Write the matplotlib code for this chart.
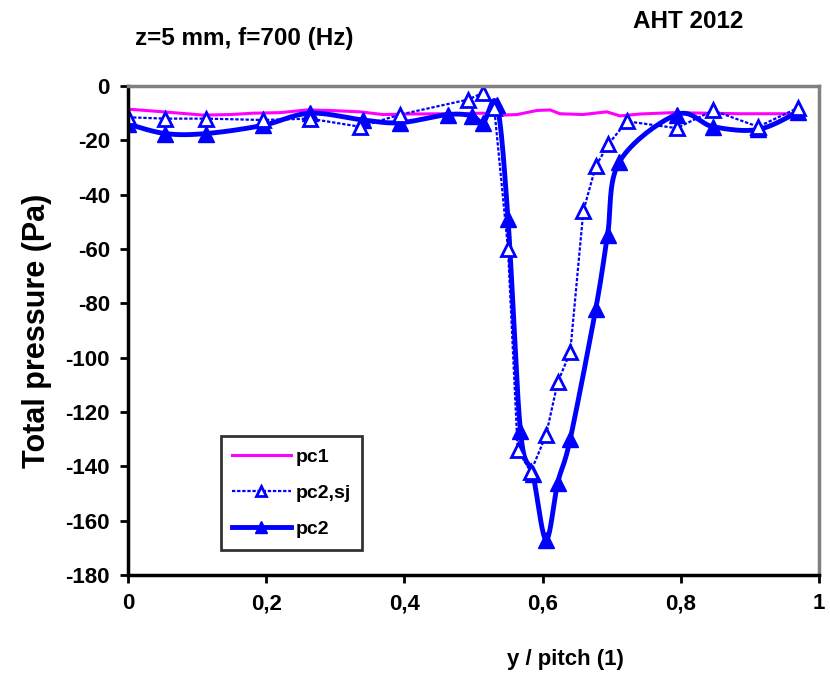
import matplotlib
matplotlib.use("Agg")
import matplotlib.pyplot as plt
import numpy as np

plt.rcParams['font.family'] = ['Liberation Sans', 'DejaVu Sans']
plt.rcParams['font.weight'] = 'bold'
plt.rcParams['axes.unicode_minus'] = False

# pc1 : reference signal (no markers)
x_pc1 = [0, 0.036, 0.075, 0.109, 0.148, 0.181, 0.22, 0.259, 0.292, 0.336, 0.369,
         0.408, 0.466, 0.514, 0.543, 0.563, 0.592, 0.611, 0.625, 0.658, 0.693,
         0.712, 0.741, 0.789, 0.886, 0.97]
y_pc1 = [-8.5, -9.2, -10.0, -10.7, -10.5, -10.0, -9.8, -8.8, -9.0, -9.5, -10.5,
         -10.3, -10.2, -10.0, -10.7, -10.5, -9.0, -8.8, -10.2, -10.5, -9.5,
         -11.0, -10.3, -9.8, -10.2, -10.2]

# pc2,sj : open triangles, dotted line
x_sj = [0, 0.054, 0.113, 0.195, 0.263, 0.336, 0.394, 0.492, 0.514, 0.53, 0.55,
        0.564, 0.583, 0.605, 0.622, 0.640, 0.659, 0.677, 0.695, 0.722, 0.794,
        0.847, 0.912, 0.970]
y_sj = [-11.5, -12, -12, -12.5, -12, -15, -10.5, -5, -2.5, -8, -60,
        -134, -142, -128.5, -109, -98, -46, -29.5, -21.5, -13, -15.5,
        -9, -15, -8]

# pc2 : filled triangles, thick smoothed line
x_pc2 = [0, 0.054, 0.113, 0.195, 0.263, 0.34, 0.394, 0.463, 0.498, 0.514, 0.534,
         0.55, 0.568, 0.586, 0.605, 0.622, 0.640, 0.677, 0.694, 0.711, 0.794,
         0.847, 0.912, 0.970]
y_pc2 = [-14, -17.5, -17.5, -14.5, -10, -12.5, -13.5, -10.5, -11, -13.5, -7,
         -49, -127, -143, -167, -146, -130, -82, -55, -28, -10.5,
         -15, -16, -9.5]

xticks = [0, 0.2, 0.4, 0.6, 0.8, 1.0]
xticklabels = ['0', '0,2', '0,4', '0,6', '0,8', '1']
yticks = list(range(-180, 1, 20))


def smooth(x, y, n=20):
    # Catmull-Rom style smoothing, like a spreadsheet "smoothed line"
    p = np.column_stack([x, y]).astype(float)
    p = np.vstack([p[0], p, p[-1]])
    out = []
    t = np.linspace(0, 1, n, endpoint=False)[:, None]
    for i in range(1, len(p) - 2):
        p0, p1, p2, p3 = p[i - 1], p[i], p[i + 1], p[i + 2]
        seg = 0.5 * ((2 * p1) + (-p0 + p2) * t + (2 * p0 - 5 * p1 + 4 * p2 - p3) * t ** 2
                     + (-p0 + 3 * p1 - 3 * p2 + p3) * t ** 3)
        out.append(seg)
    out.append(p[-2][None, :])
    out = np.vstack(out)
    return out[:, 0], out[:, 1]


fig = plt.figure(figsize=(8.3, 6.79), dpi=100)
ax = fig.add_axes([0.1542, 0.1532, 0.8325, 0.7201])

blue = '#0000ff'
ax.plot(x_pc1, y_pc1, color='#ff00ff', lw=2.2, label='pc1')

sx, sy = smooth(x_pc2, y_pc2)
ax.plot(sx, sy, color=blue, lw=3.5, solid_capstyle='round')
ax.plot(x_pc2, y_pc2, ls='none', marker='^', ms=11.5, color=blue, mec=blue)

ax.plot(x_sj, y_sj, color=blue, lw=1.6, ls=(0, (1.5, 0.8)))
ax.plot(x_sj, y_sj, ls='none', marker='^', ms=10.5, mfc='white', mec=blue, mew=2)

# legend proxies
h1, = ax.plot([], [], color='#ff00ff', lw=2.2)
h2, = ax.plot([], [], color=blue, lw=1.6, ls=(0, (1.5, 0.8)), marker='^', ms=7,
              mfc='white', mec=blue, mew=2)
h3, = ax.plot([], [], color=blue, lw=3.5, marker='^', ms=8)
leg = ax.legend([h1, h2, h3], ['pc1', 'pc2,sj', 'pc2'], loc='lower left',
                bbox_to_anchor=(0.134, 0.052), fontsize=14, frameon=True,
                fancybox=False, edgecolor='black', handlelength=3.0,
                handletextpad=0.25, labelspacing=0.95, borderpad=0.6,
                borderaxespad=0)
leg.get_frame().set_linewidth(2)
for t in leg.get_texts():
    t.set_fontweight('bold')

ax.set_xlim(0, 1)
ax.set_ylim(-180, 0)
ax.set_xticks(xticks)
ax.set_xticklabels(xticklabels)
ax.set_yticks(yticks)
ax.tick_params(axis='both', labelsize=16, width=2, length=6, direction='out', pad=7)
for lab in ax.get_xticklabels() + ax.get_yticklabels():
    lab.set_fontweight('bold')

for s in ['left', 'bottom']:
    ax.spines[s].set_color('black')
    ax.spines[s].set_linewidth(2.5)
for s in ['top', 'right']:
    ax.spines[s].set_color('#808080')
    ax.spines[s].set_linewidth(2.5)

ax.set_ylabel('Total pressure (Pa)', fontsize=22, fontweight='bold', labelpad=10)
fig.text(0.681, 0.028, 'y / pitch (1)', fontsize=16, fontweight='bold', ha='center', va='center')
fig.text(0.163, 0.944, 'z=5 mm, f=700 (Hz)', fontsize=17.5, fontweight='bold', ha='left', va='center')
fig.text(0.763, 0.969, 'AHT 2012', fontsize=17.5, fontweight='bold', ha='left', va='center')

fig.savefig('out.png', dpi=100)
